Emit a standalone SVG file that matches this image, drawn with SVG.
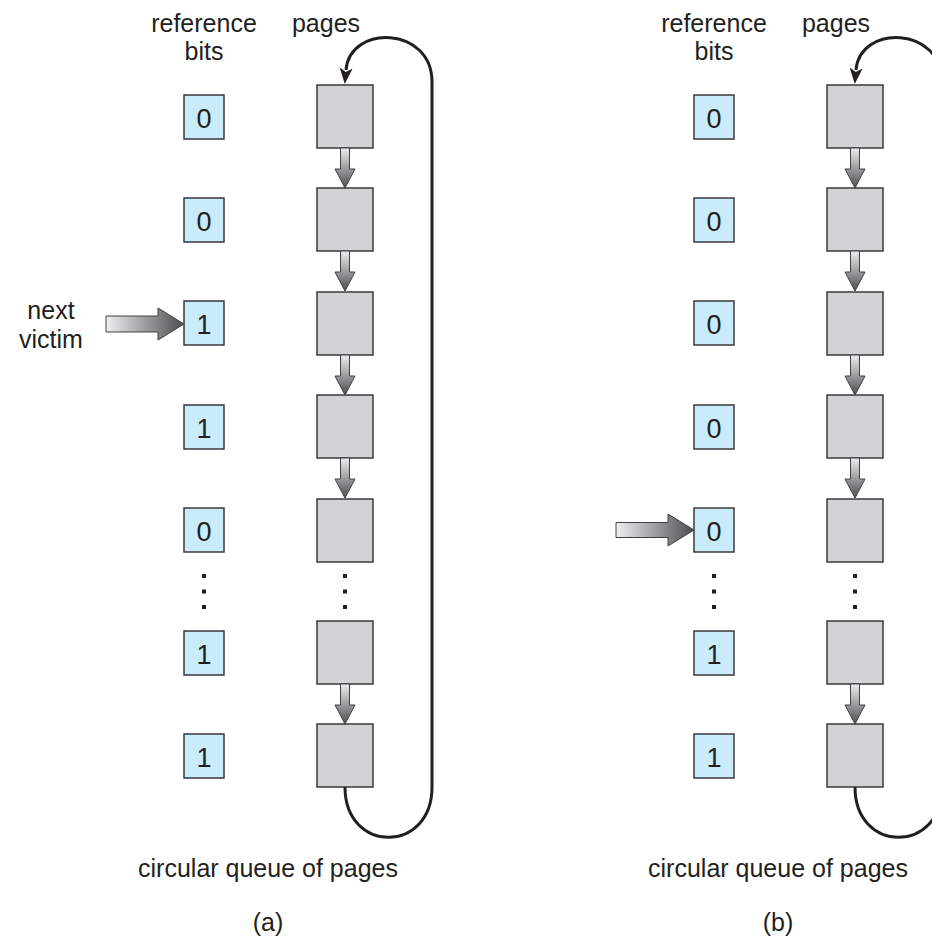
<svg xmlns="http://www.w3.org/2000/svg" width="932" height="940" viewBox="0 0 932 940">
<style>
text{font-family:"Liberation Sans",Arial,Helvetica,sans-serif;fill:#231f20;font-size:25px;text-anchor:middle}
.bit{fill:#c9ebfa;stroke:#3a3a3c;stroke-width:1.5}
.dig{font-size:27px}
.page{fill:#d1d3d4;stroke:#3a3a3c;stroke-width:1.5}
.dot{fill:#231f20}
.loop{fill:none;stroke:#231f20;stroke-width:3}
.varr{fill:url(#gv);stroke:#414042;stroke-width:1}
.harr{fill:url(#gh);stroke:#414042;stroke-width:1}
</style>
<defs>
<linearGradient id="gv" x1="0" y1="0" x2="0" y2="1">
<stop offset="0" stop-color="#eeeff0"/><stop offset="1" stop-color="#4d4d4f"/>
</linearGradient>
<linearGradient id="gh" x1="0" y1="0" x2="1" y2="0">
<stop offset="0" stop-color="#eeeff0"/><stop offset="1" stop-color="#4d4d4f"/>
</linearGradient>
<marker id="ah" markerUnits="userSpaceOnUse" markerWidth="20" markerHeight="16" viewBox="0 -8 20 16" refX="2" refY="0" orient="auto">
<path d="M0,-6.5 L16,0 L0,6.5 L4,0 z" fill="#231f20"/>
</marker>
<path id="va" d="M340.5,0 H349.5 V21 H355 L345,40 L335,21 H340.5 Z"/>
<rect id="dots" x="-2" y="-2" width="4" height="4"/>
</defs>

<!-- labels -->
<g id="labels">
<text x="204" y="32">reference</text>
<text x="204" y="60">bits</text>
<text x="326" y="32">pages</text>
<text x="714" y="32">reference</text>
<text x="714" y="60">bits</text>
<text x="836" y="32">pages</text>
<text x="51" y="319">next</text>
<text x="51" y="348">victim</text>
<text x="268" y="877">circular queue of pages</text>
<text x="268" y="931">(a)</text>
<text x="778" y="877">circular queue of pages</text>
<text x="778" y="931">(b)</text>
</g>

<!-- panel (a) bits -->
<g id="a-bit1"><rect class="bit" x="184" y="95" width="40" height="44"/><text class="dig" x="204" y="127.5">0</text></g>
<g id="a-bit2"><rect class="bit" x="184" y="198" width="40" height="44"/><text class="dig" x="204" y="230.5">0</text></g>
<g id="a-bit3"><rect class="bit" x="184" y="301" width="40" height="44"/><text class="dig" x="204" y="333.5">1</text></g>
<g id="a-bit4"><rect class="bit" x="184" y="405" width="40" height="44"/><text class="dig" x="204" y="437.5">1</text></g>
<g id="a-bit5"><rect class="bit" x="184" y="508" width="40" height="44"/><text class="dig" x="204" y="540.5">0</text></g>
<g id="a-bit7"><rect class="bit" x="184" y="631" width="40" height="44"/><text class="dig" x="204" y="663.5">1</text></g>
<g id="a-bit8"><rect class="bit" x="184" y="734" width="40" height="44"/><text class="dig" x="204" y="766.5">1</text></g>
<g id="a-bitdots" class="dot"><use href="#dots" x="204" y="576"/><use href="#dots" x="204" y="591.5"/><use href="#dots" x="204" y="607"/></g>

<!-- panel (a) pages -->
<g id="a-page1"><rect class="page" x="317" y="85" width="56" height="63"/></g>
<g id="a-page2"><rect class="page" x="317" y="188" width="56" height="63"/></g>
<g id="a-page3"><rect class="page" x="317" y="292" width="56" height="63"/></g>
<g id="a-page4"><rect class="page" x="317" y="395" width="56" height="63"/></g>
<g id="a-page5"><rect class="page" x="317" y="499" width="56" height="63"/></g>
<g id="a-page7"><rect class="page" x="317" y="621" width="56" height="63"/></g>
<g id="a-page8"><rect class="page" x="317" y="724" width="56" height="63"/></g>
<g id="a-pagedots" class="dot"><use href="#dots" x="345" y="576"/><use href="#dots" x="345" y="591.5"/><use href="#dots" x="345" y="607"/></g>

<!-- panel (b) bits -->
<g id="b-bit1"><rect class="bit" x="694" y="95" width="40" height="44"/><text class="dig" x="714" y="127.5">0</text></g>
<g id="b-bit2"><rect class="bit" x="694" y="198" width="40" height="44"/><text class="dig" x="714" y="230.5">0</text></g>
<g id="b-bit3"><rect class="bit" x="694" y="301" width="40" height="44"/><text class="dig" x="714" y="333.5">0</text></g>
<g id="b-bit4"><rect class="bit" x="694" y="405" width="40" height="44"/><text class="dig" x="714" y="437.5">0</text></g>
<g id="b-bit5"><rect class="bit" x="694" y="508" width="40" height="44"/><text class="dig" x="714" y="540.5">0</text></g>
<g id="b-bit7"><rect class="bit" x="694" y="631" width="40" height="44"/><text class="dig" x="714" y="663.5">1</text></g>
<g id="b-bit8"><rect class="bit" x="694" y="734" width="40" height="44"/><text class="dig" x="714" y="766.5">1</text></g>
<g id="b-bitdots" class="dot"><use href="#dots" x="714" y="576"/><use href="#dots" x="714" y="591.5"/><use href="#dots" x="714" y="607"/></g>

<!-- panel (b) pages -->
<g id="b-page1"><rect class="page" x="827" y="85" width="56" height="63"/></g>
<g id="b-page2"><rect class="page" x="827" y="188" width="56" height="63"/></g>
<g id="b-page3"><rect class="page" x="827" y="292" width="56" height="63"/></g>
<g id="b-page4"><rect class="page" x="827" y="395" width="56" height="63"/></g>
<g id="b-page5"><rect class="page" x="827" y="499" width="56" height="63"/></g>
<g id="b-page7"><rect class="page" x="827" y="621" width="56" height="63"/></g>
<g id="b-page8"><rect class="page" x="827" y="724" width="56" height="63"/></g>
<g id="b-pagedots" class="dot"><use href="#dots" x="855" y="576"/><use href="#dots" x="855" y="591.5"/><use href="#dots" x="855" y="607"/></g>

<!-- connectors -->
<g id="connectors">
<g class="varr">
<use href="#va" y="148"/><use href="#va" y="251"/><use href="#va" y="355"/><use href="#va" y="458"/><use href="#va" y="684"/>
<use href="#va" x="510" y="148"/><use href="#va" x="510" y="251"/><use href="#va" x="510" y="355"/><use href="#va" x="510" y="458"/><use href="#va" x="510" y="684"/>
</g>
<path class="harr" d="M106,316 H158 V308 L184,324 L158,340 V332 H106 Z"/>
<path class="harr" d="M616,522.5 H668 V514 L694,530 L668,546 V537.5 H616 Z"/>
<path class="loop" d="M345,787 C345,854 432,854 432,787 L432,82 C432,26 350,24 346,70" marker-end="url(#ah)"/>
<path class="loop" d="M855,787 C855,854 942,854 942,787 L942,82 C942,26 860,24 856,70" marker-end="url(#ah)"/>
</g>
</svg>
